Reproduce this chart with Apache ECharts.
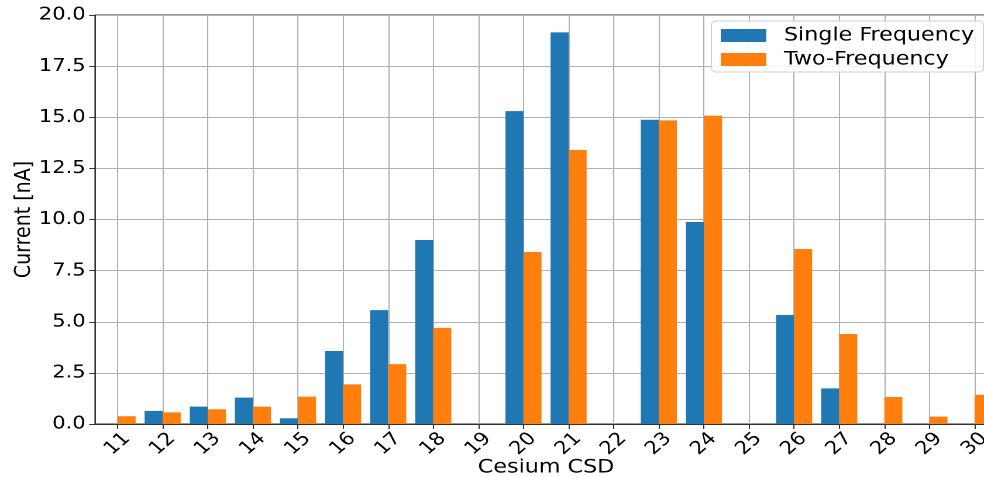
<!DOCTYPE html>
<html>
<head>
<meta charset="utf-8">
<script src="https://cdn.jsdelivr.net/npm/echarts@6/dist/echarts.min.js"></script>
<style>
  html, body { margin: 0; padding: 0; background: #fff; overflow: hidden; width: 984px; height: 477px; }
  #chart { width: 841px; height: 477px; transform: scaleX(1.17); transform-origin: 0 0; }
</style>
</head>
<body>
<div id="chart"></div>
<script>
const categories = ['11','12','13','14','15','16','17','18','19','20','21','22','23','24','25','26','27','28','29','30'];
const singleFrequency = [0, 0.64, 0.85, 1.29, 0.28, 3.57, 5.57, 9.0, 0, 15.3, 19.15, 0, 14.88, 9.88, 0, 5.33, 1.74, 0, 0, 0];
const twoFrequency = [0.38, 0.57, 0.72, 0.85, 1.34, 1.94, 2.93, 4.7, 0, 8.41, 13.4, 0, 14.85, 15.08, 0, 8.56, 4.40, 1.32, 0.36, 1.43];
const yTicks = { min: 0, max: 20, interval: 2.5 };

const FONT = 'DejaVu Sans';
const chart = echarts.init(document.getElementById('chart'), null, { renderer: 'canvas', devicePixelRatio: 2 });
chart.setOption({
  animation: false,
  backgroundColor: '#ffffff',
  textStyle: { fontFamily: FONT },
  grid: {
    left: 81.2, top: 15, width: 771, height: 409,
    show: true, borderColor: '#333', borderWidth: 1, backgroundColor: 'transparent',
    containLabel: false,
    outerBoundsMode: 'none'
  },
  legend: {
    orient: 'vertical',
    left: 608, top: 21,
    padding: [5, 8, 3, 8],
    itemWidth: 39, itemHeight: 13, itemGap: 5,
    icon: 'rect',
    backgroundColor: 'rgba(255,255,255,0.85)',
    borderColor: '#d0d0d0', borderWidth: 1, borderRadius: 4,
    textStyle: { fontFamily: FONT, fontSize: 19, color: '#000', lineHeight: 19, padding: [0, 0, 0, 10] },
    data: ['Single Frequency', 'Two-Frequency']
  },
  xAxis: {
    type: 'category',
    data: categories,
    boundaryGap: true,
    name: 'Cesium CSD',
    nameLocation: 'middle',
    nameGap: 34,
    nameMoveOverlap: false,
    nameTextStyle: { fontFamily: FONT, fontSize: 19, color: '#000' },
    axisLine: { show: true, lineStyle: { color: '#333', width: 1 } },
    axisTick: { show: true, alignWithLabel: true, length: 5, lineStyle: { color: '#333' } },
    axisLabel: {
      rotate: 45, align: 'center', verticalAlign: 'middle', margin: 20,
      fontFamily: FONT, fontSize: 18, color: '#000', interval: 0
    },
    splitLine: { show: true, alignWithLabel: true, interval: 0, lineStyle: { color: '#b0b0b0', width: 1 } }
  },
  yAxis: {
    type: 'value',
    min: yTicks.min, max: yTicks.max, interval: yTicks.interval,
    name: 'Current [nA]',
    nameLocation: 'middle',
    nameGap: 51,
    nameMoveOverlap: false,
    nameTextStyle: { fontFamily: FONT, fontSize: 19, color: '#000' },
    axisLine: { show: true, lineStyle: { color: '#333', width: 1 } },
    axisTick: { show: true, length: 5, lineStyle: { color: '#333' } },
    axisLabel: {
      margin: 8, fontFamily: FONT, fontSize: 18, color: '#000',
      formatter: v => v.toFixed(1)
    },
    splitLine: { show: true, lineStyle: { color: '#b0b0b0', width: 1 } }
  },
  series: [
    {
      name: 'Single Frequency', type: 'bar', data: singleFrequency,
      barWidth: '40%', barGap: '0%',
      itemStyle: { color: '#1f77b4' }
    },
    {
      name: 'Two-Frequency', type: 'bar', data: twoFrequency,
      barWidth: '40%', barGap: '0%',
      itemStyle: { color: '#ff7f0e' }
    }
  ]
});
</script>
</body>
</html>
